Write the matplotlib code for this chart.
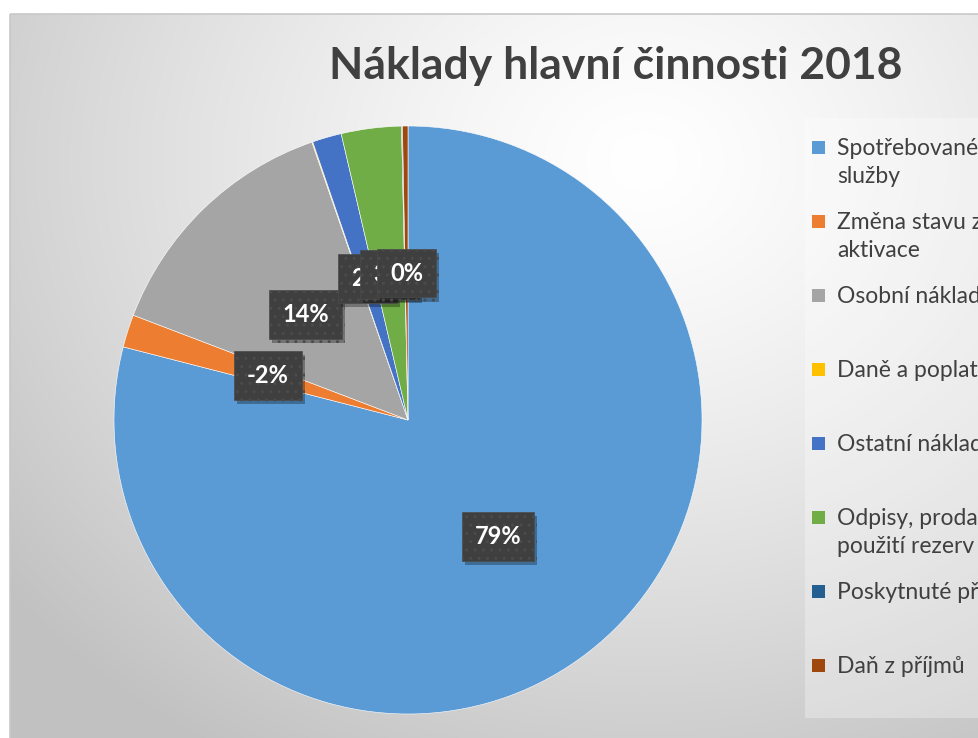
import matplotlib

matplotlib.use("Agg")

import matplotlib.pyplot as plt
import matplotlib.patheffects as pe
import numpy as np
from matplotlib.patches import Rectangle


FONT = "Lato"
TEXT_COLOR = "#404040"
LABEL_BOX = "#3f3f3f"

TITLE = "Náklady hlavní činnosti 2018"
categories = [
    "Spotřebované nákupy a\nslužby",
    "Změna stavu zásob vlastní činnosti a\naktivace",
    "Osobní náklady",
    "Daně a poplatky",
    "Ostatní náklady",
    "Odpisy, prodaný majetek, tvorba a\npoužití rezerv a opravných položek",
    "Poskytnuté příspěvky",
    "Daň z příjmů",
]
values = [79.0, -1.8, 13.9, 0.05, 1.6, 3.3, 0.05, 0.3]
colors = ["#5b9bd5", "#ed7d31", "#a5a5a5", "#ffc000", "#4472c4", "#70ad47", "#255e91", "#9e480e"]
show_label = [True, True, True, False, True, True, False, True]

W, H = 979, 738
fig = plt.figure(figsize=(W / 100, H / 100), dpi=100, facecolor="white")

# background: chart area with soft radial gradient
bg = fig.add_axes([0, 0, 1, 1])
bg.set_xlim(0, W)
bg.set_ylim(H, 0)
bg.axis("off")
yy, xx = np.mgrid[0:H, 0:W]
dist = np.hypot((xx - 640) / 820.0, (yy - 150) / 700.0)
shade = 1.0 - 0.24 * np.clip(dist, 0, 1) ** 1.3
img = np.dstack([shade, shade, shade])
bg.imshow(img, extent=(10, W, H, 14), aspect="auto", zorder=0)
bg.add_patch(Rectangle((10, 14), W, H, fill=False, edgecolor="#c8c8c8", linewidth=1.2, zorder=1))

# legend panel
bg.add_patch(Rectangle((805, 118), 200, 600, facecolor="white", alpha=0.3, edgecolor="none", zorder=1))
for i, (name, color) in enumerate(zip(categories, colors)):
    y = 148 + i * 74
    bg.add_patch(Rectangle((812, y - 7), 13, 13, facecolor=color, edgecolor="none", zorder=2))
    bg.text(837, y - 10, name, fontsize=16.5, family=FONT, color=TEXT_COLOR,
            va="top", ha="left", linespacing=1.42, zorder=2)

fig.text(616 / W, 1 - 66 / H, TITLE, fontsize=32, fontweight="bold", family=FONT,
         color=TEXT_COLOR, ha="center", va="center")

# pie
cx, cy, r = 408, 420, 294
ax = fig.add_axes([(cx - r) / W, (H - cy - r) / H, 2 * r / W, 2 * r / H])
sizes = np.abs(values)
wedges, _ = ax.pie(sizes, colors=colors, startangle=90, counterclock=False, radius=1,
                   wedgeprops={"linewidth": 0.4, "edgecolor": "white"})
ax.set_xlim(-1, 1)
ax.set_ylim(-1, 1)
ax.axis("off")

total = sizes.sum()
for wedge, value, show in zip(wedges, values, show_label):
    if not show:
        continue
    mid = np.deg2rad((wedge.theta1 + wedge.theta2) / 2)
    t = ax.text(0.5 * np.cos(mid), 0.5 * np.sin(mid), f"{value / total * 100:.0f}%",
                ha="center", va="center", fontsize=17, fontweight="bold", family=FONT,
                color="white",
                bbox={"boxstyle": "square,pad=0.55", "facecolor": LABEL_BOX,
                      "edgecolor": "#4b4b4b", "linewidth": 0.5, "hatch": ".."})
    t.get_bbox_patch().set_path_effects([
        pe.SimplePatchShadow(offset=(2, -3), shadow_rgbFace="#000000", alpha=0.3),
        pe.Normal(),
    ])

fig.savefig("out.png", dpi=100, facecolor="white")
